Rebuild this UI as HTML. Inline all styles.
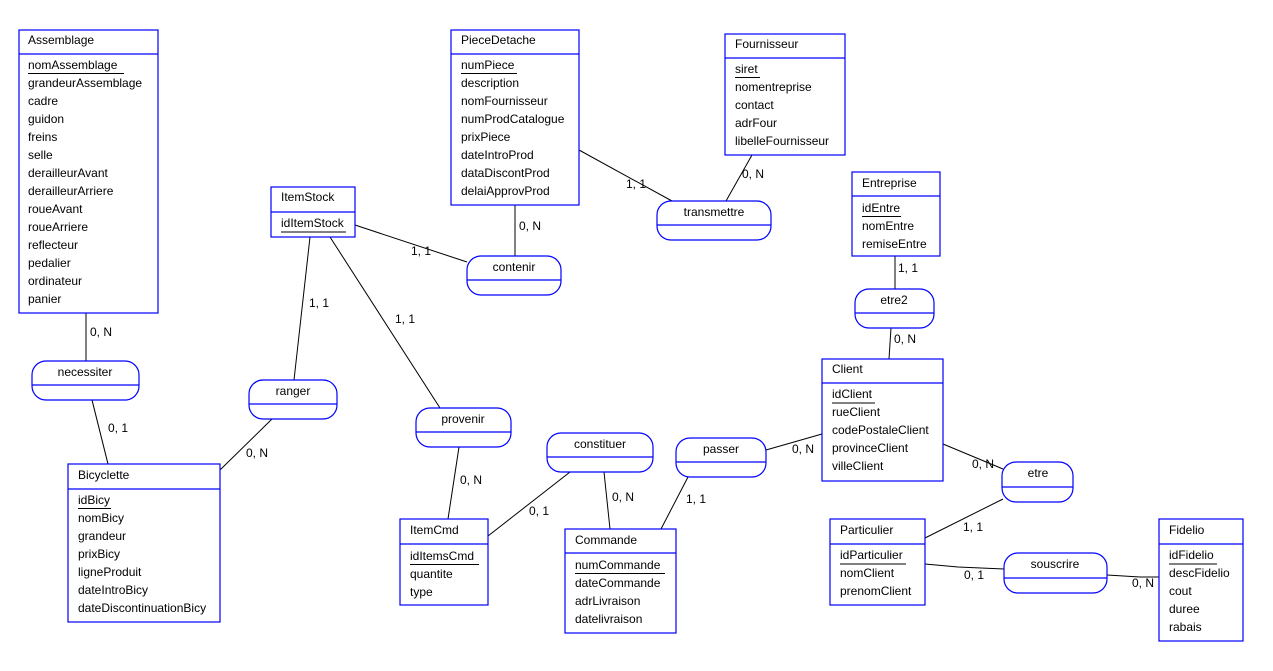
<!DOCTYPE html>
<html><head><meta charset="utf-8"><style>
html,body{margin:0;padding:0;background:#fff;}
svg{display:block;}
text{font-family:"Liberation Sans",Arial,sans-serif;font-size:12px;fill:#000;}
.e{fill:#fff;stroke:#0000ff;stroke-width:1.2;}
.b{stroke:#0000ff;stroke-width:1.2;}
.l{stroke:#000;stroke-width:1;}
.u{stroke:#000;stroke-width:1;}
</style></head><body>
<svg width="1273" height="671" viewBox="0 0 1273 671" xmlns="http://www.w3.org/2000/svg">
<!-- connectors -->
<g class="l">
<line x1="86" y1="313" x2="86" y2="361"/>
<line x1="92" y1="400" x2="108" y2="464"/>
<line x1="272" y1="419" x2="220" y2="470"/>
<line x1="310" y1="237" x2="294" y2="380"/>
<line x1="330" y1="237" x2="440" y2="408"/>
<line x1="355" y1="225" x2="467" y2="262"/>
<line x1="515" y1="205" x2="515" y2="256"/>
<line x1="579" y1="150" x2="672" y2="201"/>
<line x1="752" y1="155" x2="726" y2="201"/>
<line x1="459" y1="447" x2="448" y2="519"/>
<line x1="570" y1="472" x2="488" y2="536"/>
<line x1="604" y1="472" x2="610" y2="529"/>
<line x1="688" y1="477" x2="661" y2="529"/>
<line x1="766" y1="450" x2="822" y2="434"/>
<line x1="895" y1="256" x2="895" y2="289"/>
<line x1="891" y1="328" x2="889" y2="359"/>
<line x1="943" y1="444" x2="1003" y2="469"/>
<line x1="1003" y1="499" x2="925" y2="538"/>
<polyline fill="none" points="925,564 958,567 1004,569"/>
<polyline fill="none" points="1107,575 1140,577 1159,577"/>
</g>
<!-- cardinalities -->
<text x="90" y="336">0, N</text>
<text x="108" y="432">0, 1</text>
<text x="246" y="457">0, N</text>
<text x="309" y="307">1, 1</text>
<text x="395" y="323">1, 1</text>
<text x="411" y="255">1, 1</text>
<text x="519" y="230">0, N</text>
<text x="626" y="188">1, 1</text>
<text x="742" y="178">0, N</text>
<text x="460" y="484">0, N</text>
<text x="529" y="515">0, 1</text>
<text x="612" y="501">0, N</text>
<text x="686" y="503">1, 1</text>
<text x="792" y="453">0, N</text>
<text x="898" y="272">1, 1</text>
<text x="894" y="343">0, N</text>
<text x="972" y="468">0, N</text>
<text x="963" y="531">1, 1</text>
<text x="964" y="579">0, 1</text>
<text x="1132" y="587">0, N</text>

<!-- Assemblage -->
<rect class="e" x="19" y="30" width="139" height="283"/>
<line class="b" x1="19" y1="54" x2="158" y2="54"/>
<text x="28" y="44">Assemblage</text>
<text x="28" y="69">nomAssemblage</text><line class="u" x1="28" y1="73.5" x2="124" y2="73.5"/>
<text x="28" y="87">grandeurAssemblage</text>
<text x="28" y="105">cadre</text>
<text x="28" y="123">guidon</text>
<text x="28" y="141">freins</text>
<text x="28" y="159">selle</text>
<text x="28" y="177">derailleurAvant</text>
<text x="28" y="195">derailleurArriere</text>
<text x="28" y="213">roueAvant</text>
<text x="28" y="231">roueArriere</text>
<text x="28" y="249">reflecteur</text>
<text x="28" y="267">pedalier</text>
<text x="28" y="285">ordinateur</text>
<text x="28" y="303">panier</text>

<!-- PieceDetache -->
<rect class="e" x="451" y="30" width="128" height="175"/>
<line class="b" x1="451" y1="54" x2="579" y2="54"/>
<text x="461" y="44">PieceDetache</text>
<text x="461" y="69">numPiece</text><line class="u" x1="461" y1="73.5" x2="517" y2="73.5"/>
<text x="461" y="87">description</text>
<text x="461" y="105">nomFournisseur</text>
<text x="461" y="123">numProdCatalogue</text>
<text x="461" y="141">prixPiece</text>
<text x="461" y="159">dateIntroProd</text>
<text x="461" y="177">dataDiscontProd</text>
<text x="461" y="195">delaiApprovProd</text>

<!-- Fournisseur -->
<rect class="e" x="725" y="34" width="120" height="121"/>
<line class="b" x1="725" y1="58" x2="845" y2="58"/>
<text x="735" y="48">Fournisseur</text>
<text x="735" y="73">siret</text><line class="u" x1="735" y1="77.5" x2="760" y2="77.5"/>
<text x="735" y="91">nomentreprise</text>
<text x="735" y="109">contact</text>
<text x="735" y="127">adrFour</text>
<text x="735" y="145">libelleFournisseur</text>

<!-- ItemStock -->
<rect class="e" x="271" y="187" width="84" height="50"/>
<line class="b" x1="271" y1="212" x2="355" y2="212"/>
<text x="281" y="201">ItemStock</text>
<text x="281" y="227">idItemStock</text><line class="u" x1="281" y1="232" x2="346" y2="232"/>

<!-- Entreprise -->
<rect class="e" x="852" y="172" width="88" height="84"/>
<line class="b" x1="852" y1="196" x2="940" y2="196"/>
<text x="862" y="187">Entreprise</text>
<text x="862" y="212">idEntre</text><line class="u" x1="862" y1="216.5" x2="901" y2="216.5"/>
<text x="862" y="230">nomEntre</text>
<text x="862" y="248">remiseEntre</text>

<!-- Client -->
<rect class="e" x="822" y="359" width="121" height="122"/>
<line class="b" x1="822" y1="383" x2="943" y2="383"/>
<text x="832" y="373">Client</text>
<text x="832" y="398">idClient</text><line class="u" x1="832" y1="403" x2="875" y2="403"/>
<text x="832" y="416">rueClient</text>
<text x="832" y="434">codePostaleClient</text>
<text x="832" y="452">provinceClient</text>
<text x="832" y="470">villeClient</text>

<!-- Bicyclette -->
<rect class="e" x="68" y="464" width="152" height="158"/>
<line class="b" x1="68" y1="489" x2="220" y2="489"/>
<text x="78" y="479">Bicyclette</text>
<text x="78" y="504">idBicy</text><line class="u" x1="78" y1="508.5" x2="111" y2="508.5"/>
<text x="78" y="522">nomBicy</text>
<text x="78" y="540">grandeur</text>
<text x="78" y="558">prixBicy</text>
<text x="78" y="576">ligneProduit</text>
<text x="78" y="594">dateIntroBicy</text>
<text x="78" y="612">dateDiscontinuationBicy</text>

<!-- ItemCmd -->
<rect class="e" x="400" y="519" width="88" height="86"/>
<line class="b" x1="400" y1="544" x2="488" y2="544"/>
<text x="410" y="534">ItemCmd</text>
<text x="410" y="560">idItemsCmd</text><line class="u" x1="410" y1="564.5" x2="479" y2="564.5"/>
<text x="410" y="578">quantite</text>
<text x="410" y="596">type</text>

<!-- Commande -->
<rect class="e" x="565" y="529" width="111" height="104"/>
<line class="b" x1="565" y1="553" x2="676" y2="553"/>
<text x="575" y="544">Commande</text>
<text x="575" y="569">numCommande</text><line class="u" x1="575" y1="573.5" x2="665" y2="573.5"/>
<text x="575" y="587">dateCommande</text>
<text x="575" y="605">adrLivraison</text>
<text x="575" y="623">datelivraison</text>

<!-- Particulier -->
<rect class="e" x="830" y="519" width="95" height="86"/>
<line class="b" x1="830" y1="544" x2="925" y2="544"/>
<text x="840" y="534">Particulier</text>
<text x="840" y="559">idParticulier</text><line class="u" x1="840" y1="564" x2="906" y2="564"/>
<text x="840" y="577">nomClient</text>
<text x="840" y="595">prenomClient</text>

<!-- Fidelio -->
<rect class="e" x="1159" y="519" width="84" height="122"/>
<line class="b" x1="1159" y1="544" x2="1243" y2="544"/>
<text x="1169" y="534">Fidelio</text>
<text x="1169" y="559">idFidelio</text><line class="u" x1="1169" y1="564" x2="1217" y2="564"/>
<text x="1169" y="577">descFidelio</text>
<text x="1169" y="595">cout</text>
<text x="1169" y="613">duree</text>
<text x="1169" y="631">rabais</text>

<!-- relations -->
<g text-anchor="middle">
<rect class="e" x="32" y="361" width="107" height="39" rx="14"/><line class="b" x1="32" y1="385" x2="139" y2="385"/><text x="85" y="376">necessiter</text>
<rect class="e" x="249" y="380" width="88" height="39" rx="14"/><line class="b" x1="249" y1="404" x2="337" y2="404"/><text x="293" y="395">ranger</text>
<rect class="e" x="416" y="408" width="95" height="39" rx="14"/><line class="b" x1="416" y1="432" x2="511" y2="432"/><text x="463" y="423">provenir</text>
<rect class="e" x="467" y="256" width="94" height="39" rx="14"/><line class="b" x1="467" y1="280" x2="561" y2="280"/><text x="514" y="271">contenir</text>
<rect class="e" x="657" y="201" width="114" height="39" rx="14"/><line class="b" x1="657" y1="225" x2="771" y2="225"/><text x="714" y="216">transmettre</text>
<rect class="e" x="855" y="289" width="79" height="39" rx="14"/><line class="b" x1="855" y1="313" x2="934" y2="313"/><text x="894" y="304">etre2</text>
<rect class="e" x="547" y="433" width="106" height="39" rx="14"/><line class="b" x1="547" y1="457" x2="653" y2="457"/><text x="600" y="448">constituer</text>
<rect class="e" x="676" y="438" width="90" height="39" rx="14"/><line class="b" x1="676" y1="462" x2="766" y2="462"/><text x="721" y="453">passer</text>
<rect class="e" x="1002" y="462" width="71" height="40" rx="14"/><line class="b" x1="1002" y1="487" x2="1073" y2="487"/><text x="1038" y="477">etre</text>
<rect class="e" x="1004" y="553" width="103" height="40" rx="14"/><line class="b" x1="1004" y1="578" x2="1107" y2="578"/><text x="1055" y="568">souscrire</text>
</g>
</svg>
</body></html>
